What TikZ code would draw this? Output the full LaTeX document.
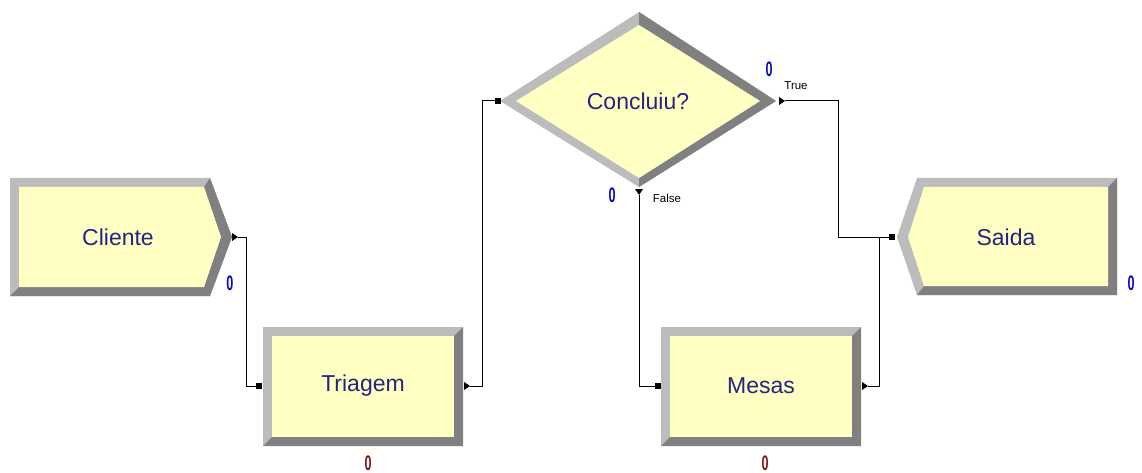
\documentclass[tikz,border=0pt]{standalone}
\usepackage{fontspec}
\setmainfont{Liberation Sans}
\definecolor{lite}{RGB}{188,188,188}
\definecolor{dark}{RGB}{128,128,128}
\definecolor{yel}{RGB}{255,255,196}
\definecolor{txt}{RGB}{36,36,130}
\definecolor{cblue}{RGB}{10,10,200}
\definecolor{cred}{RGB}{140,20,20}
\tikzset{
  x=1pt, y=-1pt,
  label/.style={text=txt, font=\fontsize{23}{27}\selectfont, inner sep=0pt},
  cnt/.style={font=\bfseries\fontsize{21}{24}\selectfont, inner sep=0pt, xscale=0.6},
  cntb/.style={cnt, text=cblue},
  cntr/.style={cnt, text=cred},
  small/.style={font=\fontsize{11.5}{13}\selectfont, inner sep=0pt},
  conn/.style={draw=black, line width=1pt},
  inport/.style={fill=black},
  outport/.style={fill=black},
}
\newcommand{\bevbox}[4]{%
  \fill[lite] (#1,#2) rectangle (#3,#4);
  \fill[dark] (#3,#2) -- (#3,#4) -- (#1,#4) -- ({#1+9},{#4-9}) -- ({#3-9},{#4-9}) -- ({#3-9},{#2+9}) -- cycle;
  \fill[yel] ({#1+9},{#2+9}) rectangle ({#3-9},{#4-9});
}
\begin{document}
\begin{tikzpicture}
\useasboundingbox[fill=white] (0,0) rectangle (1142,473);

% ---------- Cliente (create) ----------
\fill[lite] (10,178) -- (210,178) -- (232,237) -- (210,296) -- (10,296) -- cycle;
\fill[dark] (210,178) -- (232,237) -- (210,296) -- (10,296) -- (19,287) -- (204,287) -- (221,237) -- (204,187) -- cycle;
\fill[yel] (19,187) -- (204,187) -- (221,237) -- (204,287) -- (19,287) -- cycle;
\node[label] (cli) at (118,237) {Cliente};

% ---------- Triagem (process) ----------
\bevbox{263}{327}{463}{446}
\node[label] (tri) at (363,386) {Triagem};

% ---------- Mesas (process) ----------
\bevbox{661}{327}{861}{446}
\node[label] (mes) at (761,386) {Mesas};

% ---------- Concluiu? (decide) ----------
\fill[lite] (500,101) -- (639,12) -- (776,101) -- (639,187) -- cycle;
\fill[dark] (639,12) -- (776,101) -- (639,187) -- (639,178) -- (760,101) -- (639,25) -- cycle;
\fill[yel] (516,101) -- (639,25) -- (760,101) -- (639,178) -- cycle;
\node[label] (dec) at (638,101) {Concluiu?};

% ---------- Saida (dispose) ----------
\fill[lite] (897,237) -- (917,178) -- (1117,178) -- (1117,295) -- (917,295) -- cycle;
\fill[dark] (1117,178) -- (1117,295) -- (917,295) -- (924,286) -- (1108,286) -- (1108,187) -- cycle;
\fill[yel] (908,237) -- (924,187) -- (1108,187) -- (1108,286) -- (924,286) -- cycle;
\node[label] (sai) at (1006,237) {Saida};

% ---------- ports ----------
\coordinate (cliOut) at (238,237);
\coordinate (triIn) at (256,386);
\coordinate (triOut) at (470,386);
\coordinate (decIn) at (495,101);
\coordinate (decT) at (785,101);
\coordinate (decF) at (639,195);
\coordinate (mesIn) at (655,386);
\coordinate (mesOut) at (868,386);
\coordinate (saiIn) at (889,237);
\coordinate (join) at (879,237);

% ---------- connectors ----------
\draw[conn] (cliOut) -- ++(8,0) |- (triIn);
\draw[conn] (triOut) -- ++(12,0) |- (decIn);
\draw[conn] (decT) -- ++(53,0) |- (saiIn);
\draw[conn] (decF) |- (mesIn);
\draw[conn] (mesOut) -| (join);

% ---------- port markers ----------
\fill[outport] (232,233) -- (238,237) -- (232,241) -- cycle;
\fill[inport] (256,383) rectangle (262,389);
\fill[outport] (464,382) -- (470,386) -- (464,390) -- cycle;
\fill[inport] (495,98) rectangle (501,104);
\fill[outport] (779,97) -- (785,101) -- (779,105) -- cycle;
\fill[outport] (635,189) -- (643,189) -- (639,195) -- cycle;
\fill[inport] (655,383) rectangle (661,389);
\fill[outport] (862,382) -- (868,386) -- (862,390) -- cycle;
\fill[inport] (889,234) rectangle (895,240);

% ---------- counters and labels ----------
\node[cntb] (nCli) at (230,283) {0};
\node[cntr] (nTri) at (368,463) {0};
\node[cntb] (nT) at (769,69) {0};
\node[small] (lT) at (796,86) {True};
\node[cntb] (nF) at (612,195) {0};
\node[small] (lF) at (667,198) {False};
\node[cntr] (nMes) at (765,463) {0};
\node[cntb] (nSai) at (1131,283) {0};
\end{tikzpicture}
\end{document}
